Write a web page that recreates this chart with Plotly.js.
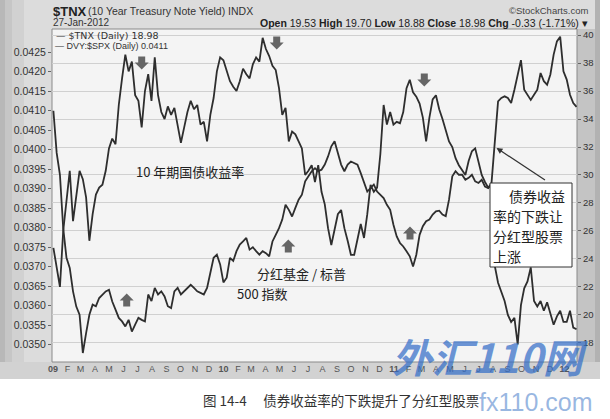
<!DOCTYPE html>
<html><head><meta charset="utf-8">
<script src="https://cdn.plot.ly/plotly-3.0.1.min.js"></script>
<style>html,body{margin:0;padding:0;background:#fff;}#chart{width:610px;height:419px;}</style>
</head><body><div id="chart"></div>
<script>
// ---- data (weekly readings) ----
const dates2009 = ['2009-01-02','2009-01-09','2009-01-16','2009-01-23','2009-01-30','2009-02-06','2009-02-13','2009-02-20','2009-02-27','2009-03-06','2009-03-13','2009-03-20','2009-03-27','2009-04-03','2009-04-10','2009-04-17','2009-04-24','2009-05-01','2009-05-08','2009-05-15','2009-05-22','2009-05-29','2009-06-05','2009-06-12','2009-06-19','2009-06-26','2009-07-03','2009-07-10','2009-07-17','2009-07-24','2009-07-31','2009-08-07','2009-08-14','2009-08-21','2009-08-28','2009-09-04','2009-09-11','2009-09-18','2009-09-25','2009-10-02','2009-10-09','2009-10-16','2009-10-23','2009-10-30','2009-11-06','2009-11-13','2009-11-20','2009-11-27','2009-12-04','2009-12-11','2009-12-18','2009-12-25'];
const dates2010 = ['2010-01-01','2010-01-08','2010-01-15','2010-01-22','2010-01-29','2010-02-05','2010-02-12','2010-02-19','2010-02-26','2010-03-05','2010-03-12','2010-03-19','2010-03-26','2010-04-02','2010-04-09','2010-04-16','2010-04-23','2010-04-30','2010-05-07','2010-05-14','2010-05-21','2010-05-28','2010-06-04','2010-06-11','2010-06-18','2010-06-25','2010-07-02','2010-07-09','2010-07-16','2010-07-23','2010-07-30','2010-08-06','2010-08-13','2010-08-20','2010-08-27','2010-09-03','2010-09-10','2010-09-17','2010-09-24','2010-10-01','2010-10-08','2010-10-15','2010-10-22','2010-10-29','2010-11-05','2010-11-12','2010-11-19','2010-11-26','2010-12-03','2010-12-10','2010-12-17','2010-12-24','2010-12-31'];
const dates2011 = ['2011-01-07','2011-01-14','2011-01-21','2011-01-28','2011-02-04','2011-02-11','2011-02-18','2011-02-25','2011-03-04','2011-03-11','2011-03-18','2011-03-25','2011-04-01','2011-04-08','2011-04-15','2011-04-22','2011-04-29','2011-05-06','2011-05-13','2011-05-20','2011-05-27','2011-06-03','2011-06-10','2011-06-17','2011-06-24','2011-07-01','2011-07-08','2011-07-15','2011-07-22','2011-07-29','2011-08-05','2011-08-12','2011-08-19','2011-08-26','2011-09-02','2011-09-09','2011-09-16','2011-09-23','2011-09-30','2011-10-07','2011-10-14','2011-10-21','2011-10-28','2011-11-04','2011-11-11','2011-11-18','2011-11-25','2011-12-02','2011-12-09','2011-12-16','2011-12-23','2011-12-30'];
const dates2012 = ['2012-01-06','2012-01-13','2012-01-20','2012-01-27'];

const tnx2009 = [24.8,23.4,22.0,26.0,28.4,30.3,26.7,28.4,30.3,29.7,28.4,25.3,27.2,28.6,29.1,29.3,30.3,31.9,32.6,32.2,35.0,36.9,38.6,37.4,38.1,35.7,35.3,33.4,36.0,37.2,35.3,38.4,35.7,34.5,34.0,34.9,34.3,34.8,33.6,32.3,33.4,34.5,35.3,34.7,35.0,33.6,33.8,32.4,34.3,35.5,37.4,38.4];
const tnx2010 = [38.2,37.4,36.7,36.3,36.0,36.7,37.6,37.2,36.9,37.9,38.4,38.1,39.8,39.0,38.5,37.8,37.5,36.2,34.3,34.8,32.4,33.1,32.9,32.4,31.9,30.0,30.3,30.7,29.5,30.7,28.8,27.9,26.2,25.0,26.2,27.2,27.5,26.2,25.3,24.3,24.3,25.3,26.5,25.5,27.2,29.3,28.8,29.1,31.5,35.0,33.6,34.5,33.6];
const tnx2011 = [33.8,33.7,34.5,36.2,36.8,35.9,35.6,35.1,34.1,32.4,34.1,35.4,35.7,34.7,34.0,33.2,32.4,32.0,31.2,30.7,30.3,30.0,31.0,31.7,31.9,31.0,30.0,29.5,29.1,29.3,23.5,22.3,21.7,21.0,20.0,19.5,19.8,17.9,20.7,21.9,22.4,23.4,21.0,20.6,21.0,20.3,20.9,20.0,19.3,19.9,20.3,19.5];
const tnx2012 = [19.5,20.3,19.1,18.98];

const dvy2009 = [0.0410,0.03992,0.03936,0.03799,0.03723,0.03697,0.03637,0.03598,0.03577,0.03479,0.0353,0.03577,0.03603,0.03599,0.0362,0.03629,0.03637,0.03641,0.03611,0.0359,0.03569,0.0356,0.03547,0.03564,0.03534,0.03552,0.03569,0.03564,0.0356,0.03629,0.03612,0.03646,0.03629,0.03637,0.03624,0.03599,0.03594,0.03637,0.03646,0.03629,0.03637,0.03646,0.03654,0.03646,0.03637,0.03633,0.03629,0.03646,0.03688,0.03723,0.03731,0.03706];
const dvy2010 = [0.0366,0.03672,0.03723,0.03715,0.0374,0.03757,0.03765,0.03774,0.03744,0.0375,0.0374,0.03731,0.0374,0.03735,0.03727,0.03765,0.03782,0.03799,0.03821,0.03859,0.03846,0.03829,0.03851,0.03872,0.03885,0.03919,0.03932,0.03945,0.03953,0.03945,0.03949,0.03962,0.03983,0.04009,0.04022,0.03992,0.03962,0.03945,0.03962,0.0397,0.03966,0.03962,0.0394,0.03915,0.03893,0.03902,0.03911,0.03893,0.03885,0.03876,0.03859,0.03846,0.03808];
const dvy2011 = [0.03778,0.03761,0.03752,0.0374,0.03727,0.03701,0.03731,0.03782,0.03804,0.03817,0.03821,0.03834,0.03842,0.03844,0.03834,0.0383,0.03872,0.03932,0.03945,0.03936,0.03936,0.03923,0.03928,0.03936,0.03919,0.03915,0.03923,0.03906,0.03902,0.03915,0.0403,0.04124,0.04133,0.04137,0.04133,0.0412,0.04154,0.04193,0.0423,0.04154,0.04141,0.04128,0.04141,0.04154,0.04197,0.04176,0.04167,0.04193,0.04244,0.04278,0.0429,0.04201];
const dvy2012 = [0.0418,0.04141,0.0412,0.0411];

const monthTicks = ['2009-01-01','2009-02-01','2009-03-01','2009-04-01','2009-05-01','2009-06-01','2009-07-01','2009-08-01','2009-09-01','2009-10-01','2009-11-01','2009-12-01','2010-01-01','2010-02-01','2010-03-01','2010-04-01','2010-05-01','2010-06-01','2010-07-01','2010-08-01','2010-09-01','2010-10-01','2010-11-01','2010-12-01','2011-01-01','2011-02-01','2011-03-01','2011-04-01','2011-05-01','2011-06-01','2011-07-01','2011-08-01','2011-09-01','2011-10-01','2011-11-01','2011-12-01','2012-01-01'];
const monthLabels = ['<b>09</b>','F','M','A','M','J','J','A','S','O','N','D','<b>10</b>','F','M','A','M','J','J','A','S','O','N','D','<b>11</b>','F','M','A','M','J','J','A','S','O','N','D','<b>12</b>'];
const quarterTicks = ['2009-01-01','2009-04-01','2009-07-01','2009-10-01','2010-01-01','2010-04-01','2010-07-01','2010-10-01','2011-01-01','2011-04-01','2011-07-01','2011-10-01','2012-01-01'];
const leftTicks = [0.0350,0.0355,0.0360,0.0365,0.0370,0.0375,0.0380,0.0385,0.0390,0.0395,0.0400,0.0405,0.0410,0.0415,0.0420,0.0425];
const rightTicks = [18,20,22,24,26,28,30,32,34,36,38,40];

const weekDates = dates2009.concat(dates2010, dates2011, dates2012);
const tnxValues = tnx2009.concat(tnx2010, tnx2011, tnx2012);
const dvySpxValues = dvy2009.concat(dvy2010, dvy2011, dvy2012);

// ---- geometry helpers (pixel -> paper) ----
const W = 610, H = 419, ML = 52, MR = 33, MT = 29, MB = 57;
const PW = W - ML - MR, PH = H - MT - MB;
const px = x => (x - ML) / PW;
const py = y => (H - MB - y) / PH;

function rect(x0, y0, x1, y1, fill, line, layer) {
  return {type:'rect', xref:'paper', yref:'paper', x0:px(x0), x1:px(x1), y0:py(y1), y1:py(y0),
    fillcolor:fill, line: line || {width:0}, layer: layer || 'below'};
}
function blockArrow(cx, cy, dir) {
  const pts = [[-3.5,-6.5],[3.5,-6.5],[3.5,-0.5],[7,-0.5],[0,6.5],[-7,-0.5],[-3.5,-0.5]];
  const d = pts.map((p, i) => (i ? 'L' : 'M') + px(cx + p[0]).toFixed(5) + ',' + py(cy + dir * p[1]).toFixed(5)).join(' ') + ' Z';
  return {type:'path', xref:'paper', yref:'paper', path:d, fillcolor:'#666666', line:{width:0}, layer:'above'};
}
const SANS = 'Liberation Sans, Arial, sans-serif';
const CJK = 'Noto Sans CJK SC, sans-serif';
function txt(text, x, y, opt) {
  const o = Object.assign({size:10, color:'#222', family:SANS, anchor:'left'}, opt || {});
  return {xref:'paper', yref:'paper', x:px(x), y:py(y), text:text, showarrow:false,
    xanchor:o.anchor, yanchor:'middle', font:{family:o.family, size:o.size, color:o.color, weight:o.weight || 'normal', style:o.style || 'normal'}};
}

const xRange = ['2008-12-30', '2012-01-28'];
const lineStyle = {color:'#2e2e2e', width:1.8};

const traces = [
  {type:'scatter', mode:'lines', name:'DVY:$SPX (Daily)', x:weekDates, y:dvySpxValues, xaxis:'x', yaxis:'y', line:lineStyle},
  {type:'scatter', mode:'lines', name:'$TNX (Daily)', x:weekDates, y:tnxValues, xaxis:'x', yaxis:'y2', line:lineStyle}
];

const shapes = [
  rect(0, 0, 600, 379, '#dcdcdc'),
  rect(0, 0, 5, 379, '#b8b8b8'),
  rect(5, 0, 12, 379, '#c6c6c6'),
  rect(12, 0, 24, 379, '#d1d1d1'),
  rect(577, 29, 600, 362, '#c4c4c4'),
  rect(595, 0, 600, 379, '#b2b2b2'),
  rect(0, 362, 600, 379, '#d2d2d2'),
  {type:'rect', xref:'paper', yref:'paper', x0:0, x1:1, y0:0, y1:1, fillcolor:'#f4f4f4', line:{color:'#8a8a8a', width:1}, layer:'below'},
  rect(490, 183, 572, 267, '#ffffff', {color:'#333', width:1}, 'above'),
  blockArrow(141.7, 63, 1),
  blockArrow(276.7, 43, 1),
  blockArrow(424.3, 80, 1),
  blockArrow(126.7, 300, -1),
  blockArrow(288.3, 246, -1),
  blockArrow(410, 233, -1)
];

const annotations = [
  txt('<b>$TNX</b>', 51, 11, {size:13, color:'#222'}),
  txt('(10 Year Treasury Note Yield) INDX', 86, 11, {size:10.5, color:'#333'}),
  txt('©StockCharts.com', 590, 10, {size:9.5, color:'#444', anchor:'right'}),
  txt('27-Jan-2012', 51, 23, {size:10, color:'#333'}),
  txt('<b>Open</b> 19.53 <b>High</b> 19.70 <b>Low</b> 18.88 <b>Close</b> 18.98 <b>Chg</b> -0.33 (-1.71%) ▾', 590, 23, {size:10.5, color:'#222', anchor:'right'}),
  txt('— $TNX (Daily) 18.98', 54, 36, {size:9.5, color:'#333', family:'DejaVu Sans, sans-serif'}),
  txt('— DVY:$SPX (Daily) 0.0411', 53, 46, {size:9, color:'#333'}),
  txt('10 年期国债收益率', 190, 171, {size:13, color:'#222', family:CJK, anchor:'center'}),
  txt('分红基金 / 标普', 301, 273, {size:13, color:'#222', family:CJK, anchor:'center'}),
  txt('500 指数', 235, 293, {size:13, color:'#222', family:CJK}),
  txt('债券收益', 507, 196, {size:14, color:'#222', family:CJK}),
  txt('率的下跌让', 491, 216, {size:14, color:'#222', family:CJK}),
  txt('分红型股票', 491, 236, {size:14, color:'#222', family:CJK}),
  txt('上涨', 491, 256, {size:14, color:'#222', family:CJK}),
  {xref:'paper', yref:'paper', x:px(496.5), y:py(148), ax:50, ay:33, axref:'pixel', ayref:'pixel', text:'',
    showarrow:true, arrowhead:2, arrowsize:1, arrowwidth:1.2, arrowcolor:'#333'},
  txt('图 14-4　 债券收益率的下跌提升了分红型股票', 341, 400, {size:13.5, color:'#333', family:CJK, anchor:'center'}),
  txt('外汇110网', 490, 356, {size:40, color:'rgba(52,110,200,0.72)', family:CJK, anchor:'center', weight:'bold', style:'italic'}),
  txt('fx110.com', 535, 402, {size:25, color:'rgba(120,160,215,0.75)', family:SANS, anchor:'center'})
];

const layout = {
  width:W, height:H,
  margin:{l:ML, r:MR, t:MT, b:MB, pad:0},
  paper_bgcolor:'#ffffff', plot_bgcolor:'#f4f4f4',
  showlegend:false,
  xaxis:{type:'date', range:xRange, tickmode:'array', tickvals:monthTicks, ticktext:monthLabels, tickangle:0,
    showgrid:false, ticks:'', zeroline:false, showline:false,
    tickfont:{family:SANS, size:9, color:'#555'}},
  xaxis2:{type:'date', range:xRange, overlaying:'x', anchor:'y', side:'bottom', tickmode:'array', tickvals:quarterTicks,
    showticklabels:false, ticks:'', showgrid:true, gridcolor:'#d0d0d0', gridwidth:1, zeroline:false, showline:false},
  yaxis:{range:[0.034559, 0.043097], tickmode:'array', tickvals:leftTicks, tickformat:'.4f',
    showgrid:false, zeroline:false, ticks:'outside', ticklen:3, tickcolor:'#666', showline:false,
    tickfont:{family:SANS, size:10.5, color:'#333'}},
  yaxis2:{range:[16.64, 40.43], overlaying:'y', side:'right', anchor:'x', tickmode:'array', tickvals:rightTicks,
    showgrid:true, gridcolor:'#d0d0d0', gridwidth:1, zeroline:false, ticks:'outside', ticklen:3, tickcolor:'#666', showline:false,
    tickfont:{family:SANS, size:9.5, color:'#333'}},
  shapes:shapes,
  annotations:annotations
};

Plotly.newPlot('chart', traces, layout, {staticPlot:true, displayModeBar:false});
</script>
</body></html>
